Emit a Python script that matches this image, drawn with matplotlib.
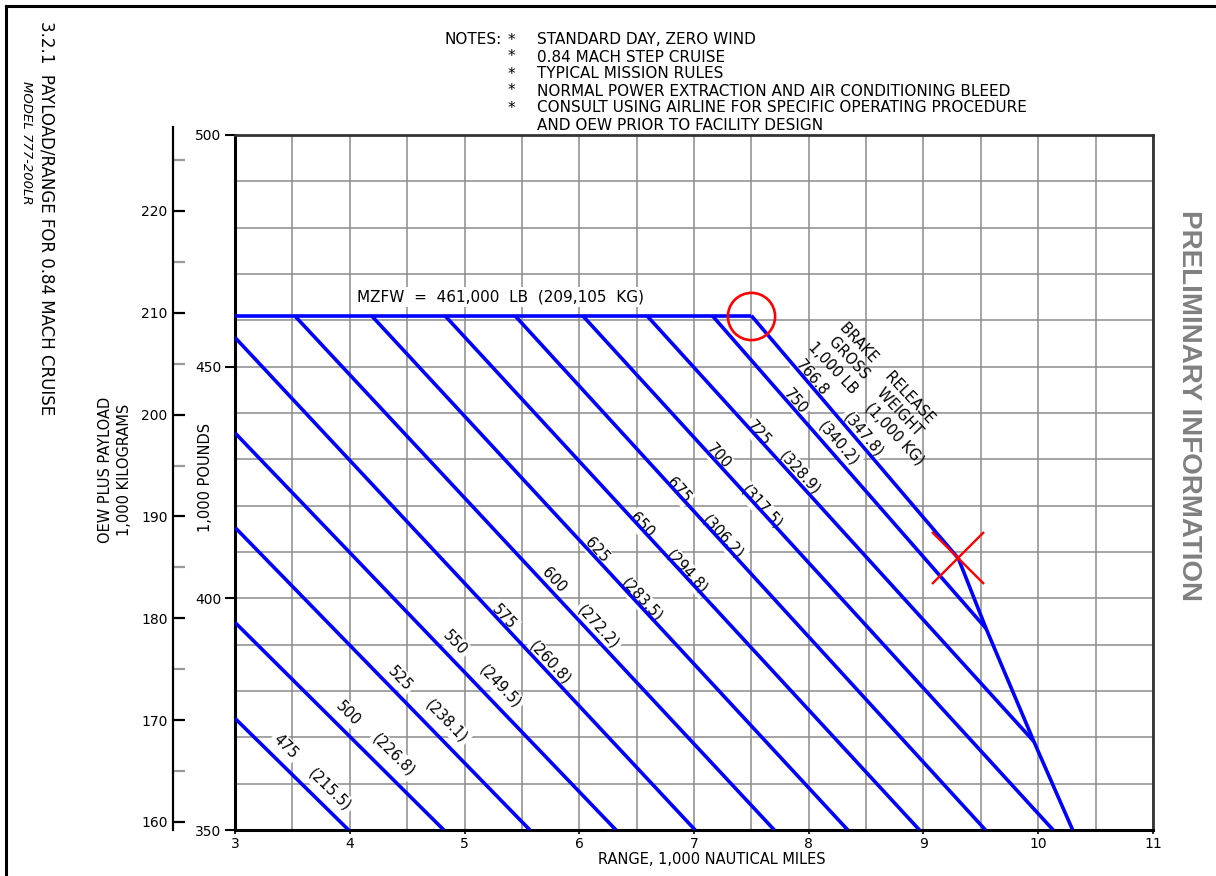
import numpy as np
import matplotlib
matplotlib.use("Agg")
import matplotlib.pyplot as plt
from matplotlib.lines import Line2D

# ---------------- data ----------------
gw_lb_labels = ["475", "500", "525", "550", "575", "600", "625", "650",
                "675", "700", "725", "750", "766.8"]
gw_kg_labels = ["(215.5)", "(226.8)", "(238.1)", "(249.5)", "(260.8)", "(272.2)",
                "(283.5)", "(294.8)", "(306.2)", "(317.5)", "(328.9)", "(340.2)",
                "(347.8)"]
# each brake-release gross weight line: start point and end point (range 1000 nm, payload 1000 lb)
start_range = [3.0, 3.0, 3.0, 3.0, 3.0, 3.52, 4.19, 4.83, 5.44, 6.03, 6.59, 7.16, 7.50]
start_lb = [374.1, 394.8, 415.3, 435.7, 456.3, 461.0, 461.0, 461.0, 461.0, 461.0,
            461.0, 461.0, 461.0]
end_range = [3.99, 4.82, 5.57, 6.32, 7.01, 7.70, 8.34, 8.965, 9.54, 10.13,
             9.962, 9.545, 9.304]
end_lb = [350.0, 350.0, 350.0, 350.0, 350.0, 350.0, 350.0, 350.0, 350.0, 350.0,
          369.1, 393.5, 408.6]
# MZFW limit
mzfw_range = [3.0, 7.5]
mzfw_lb = [461.0, 461.0]
# fuel capacity limit
fuel_range = [9.304, 9.545, 9.962, 10.30]
fuel_lb = [408.6, 393.5, 369.1, 350.0]

x_ticks = [3, 4, 5, 6, 7, 8, 9, 10, 11]
lb_ticks = [350, 400, 450, 500]
kg_ticks = [160, 170, 180, 190, 200, 210, 220]

notes = ["STANDARD DAY, ZERO WIND", "0.84 MACH STEP CRUISE", "TYPICAL MISSION RULES",
         "NORMAL POWER EXTRACTION AND AIR CONDITIONING BLEED",
         "CONSULT USING AIRLINE FOR SPECIFIC OPERATING PROCEDURE",
         "AND OEW PRIOR TO FACILITY DESIGN"]

# ---------------- layout (label positions, data coords) ----------------
num_pos_x = [3.436, 3.987, 4.438, 4.917, 5.344, 5.780, 6.152, 6.544, 6.863, 7.212, 7.560, 7.880, 8.026]
num_pos_y = [368.0, 375.2, 382.7, 390.3, 396.0, 404.0, 410.4, 415.8, 423.4, 430.6, 435.6, 442.4, 447.5]
kg_pos_x = [3.828, 4.380, 4.845, 5.309, 5.745, 6.166, 6.544, 6.936, 7.255, 7.590, 7.924, 8.258, 8.475]
kg_pos_y = [358.6, 366.2, 373.4, 380.9, 386.0, 393.9, 399.6, 405.8, 413.3, 419.7, 427.0, 433.5, 435.3]

W, H = 1216, 876
plt.rcParams["font.family"] = ["DejaVu Sans"]
fig = plt.figure(figsize=(W / 100, H / 100), dpi=100)
fig.patch.set_facecolor("white")


def fx(px):
    return px / W


def fy(py):
    return 1 - py / H


ax = fig.add_axes([fx(235), fy(830), fx(1153) - fx(235), fy(135) - fy(830)])
ax.set_xlim(3, 11)
ax.set_ylim(350, 500)
ax.set_xticks(x_ticks)
ax.set_xticks(np.arange(3.5, 11, 1.0), minor=True)
ax.set_yticks(lb_ticks)
ax.set_yticks([v for v in range(360, 500, 10) if v not in lb_ticks], minor=True)
ax.grid(True, which="both", color="#8c8c8c", lw=1.1)
ax.set_axisbelow(True)
ax.tick_params(axis="x", which="major", direction="out", length=3, width=1.2,
               labelsize=10, pad=2)
ax.tick_params(axis="y", which="major", direction="out", length=7, width=1.5,
               labelsize=10, pad=3)
ax.tick_params(which="minor", length=0)
for s in ("left", "bottom"):
    ax.spines[s].set_linewidth(2.2)
    ax.spines[s].set_color("black")
for s in ("top", "right"):
    ax.spines[s].set_linewidth(2.0)
    ax.spines[s].set_color("#333333")

blue = "#0000ff"
ax.plot(mzfw_range, mzfw_lb, color=blue, lw=2.6, solid_capstyle="butt", zorder=3)
for x0, y0, x1, y1 in zip(start_range, start_lb, end_range, end_lb):
    ax.plot([x0, x1], [y0, y1], color=blue, lw=2.6, solid_capstyle="butt", zorder=3)
ax.plot(fuel_range, fuel_lb, color=blue, lw=2.6, solid_capstyle="butt", zorder=3)

mask = dict(boxstyle="square,pad=0.15", fc="white", ec="none")

# labels along lines
for i in range(len(gw_lb_labels)):
    p0 = ax.transData.transform((start_range[i], start_lb[i]))
    p1 = ax.transData.transform((end_range[i], end_lb[i]))
    ang = np.degrees(np.arctan2(p1[1] - p0[1], p1[0] - p0[0]))
    ax.text(num_pos_x[i], num_pos_y[i], gw_lb_labels[i], rotation=ang,
            rotation_mode="anchor", ha="center", va="center", fontsize=10.5,
            zorder=2.6, bbox=mask)
    ax.text(kg_pos_x[i], kg_pos_y[i], gw_kg_labels[i], rotation=ang,
            rotation_mode="anchor", ha="center", va="center", fontsize=10.5,
            zorder=2.6, bbox=mask)

hdr_ang = -47
for (hx, hy, htxt) in [(8.686, 448.6, "BRAKE    RELEASE"),
                       (8.577, 445.7, "GROSS    WEIGHT"),
                       (8.505, 442.1, "1,000 LB    (1,000 KG)")]:
    ax.text(hx, hy, htxt, rotation=hdr_ang, rotation_mode="anchor",
            ha="center", va="center", fontsize=10.5, zorder=2.7)

ax.text(5.31, 465.0, "MZFW  =  461,000  LB  (209,105  KG)", ha="center", va="center",
        fontsize=11, zorder=2.5, bbox=mask)

# red markers
ax.plot([mzfw_range[1]], [mzfw_lb[1]], "o", ms=34, mfc="none", mec="#ff0000", mew=1.9,
        zorder=6, clip_on=False)
ax.plot([fuel_range[0]], [fuel_lb[0]], "x", ms=38, mec="#ff0000", mew=1.7, zorder=6)

# kilogram axis
ax_kg = ax.twinx()
ax_kg.set_ylim(159.21, 227.46)
for s in ("right", "top", "bottom"):
    ax_kg.spines[s].set_visible(False)
ax_kg.spines["left"].set_visible(True)
ax_kg.spines["left"].set_position(("outward", 62 * 0.72))
ax_kg.spines["left"].set_linewidth(1.6)
ax_kg.spines["left"].set_bounds(159.21, 228.25)
ax_kg.yaxis.set_ticks_position("left")
ax_kg.yaxis.set_label_position("left")
ax_kg.set_yticks(kg_ticks)
ax_kg.set_yticks(np.arange(165, 226, 10), minor=True)
ax_kg.tick_params(axis="y", which="major", direction="in", length=8.5, width=1.6,
                  color="black", labelsize=10, pad=4)
ax_kg.tick_params(axis="y", which="minor", direction="in", length=8.5, width=1.6,
                  color="#9a9a9a")

# axis titles
fig.text(fx(712), fy(860), "RANGE, 1,000 NAUTICAL MILES", ha="center", va="center",
         fontsize=10.5)
fig.text(fx(205), fy(477), "1,000 POUNDS", rotation=90, ha="center", va="center",
         fontsize=10.5)
fig.text(fx(115), fy(470), "OEW PLUS PAYLOAD\n1,000 KILOGRAMS", rotation=90,
         ha="center", va="center", multialignment="center", fontsize=10.5, linespacing=1.35)

# page titles
fig.text(fx(46), fy(218), "3.2.1  PAYLOAD/RANGE FOR 0.84 MACH CRUISE", rotation=-90,
         ha="center", va="center", fontsize=12)
fig.text(fx(26), fy(143), "MODEL 777-200LR", rotation=-90, ha="center", va="center",
         fontsize=9.5, style="italic")
fig.text(fx(1189), fy(405), "PRELIMINARY INFORMATION", rotation=-90, ha="center",
         va="center", fontsize=20, weight="bold", color="#808080",
         family=["Liberation Sans", "DejaVu Sans"])

# notes
fig.text(fx(444), fy(40), "NOTES:", ha="left", va="center", fontsize=11)
for k, line in enumerate(notes):
    yy = 40 + 17 * k
    if k < 5:
        fig.text(fx(511), fy(yy), "*", ha="center", va="center", fontsize=11)
    fig.text(fx(537), fy(yy), line, ha="left", va="center", fontsize=11)

# page border (left and top)
fig.add_artist(Line2D([fx(6), fx(6)], [0, fy(6)], color="black", lw=2.2,
                      transform=fig.transFigure))
fig.add_artist(Line2D([fx(6), 1], [fy(6), fy(6)], color="black", lw=2.2,
                      transform=fig.transFigure))

fig.savefig("out.png", dpi=100, facecolor="white")
